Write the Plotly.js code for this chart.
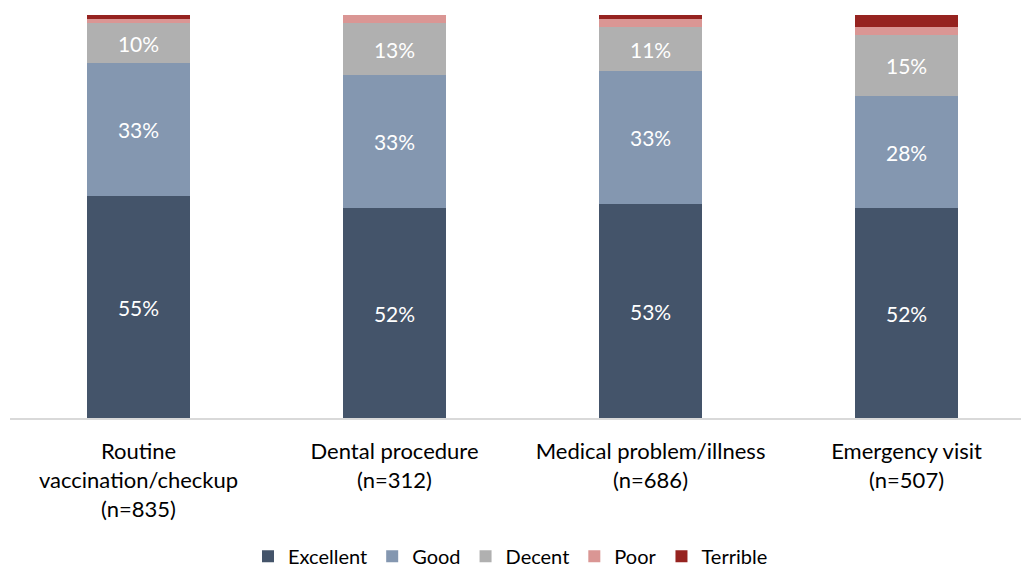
<!DOCTYPE html>
<html>
<head>
<meta charset="utf-8">
<script src="https://cdn.plot.ly/plotly-3.0.1.min.js"></script>
<style>html,body{margin:0;padding:0;background:#fff;}#chart{width:1021px;height:570px;}</style>
</head>
<body>
<div id="chart"></div>
<script>
const categories = [
  "Routine<br>vaccination/checkup<br>(n=835)",
  "Dental procedure<br>(n=312)",
  "Medical problem/illness<br>(n=686)",
  "Emergency visit<br>(n=507)"
];
const excellent = [55, 52, 53, 52];
const good = [33, 33, 33, 28];
const decent = [10, 13, 11, 15];
const poor = [1, 2, 2, 2];
const terrible = [1, 0, 1, 3];

const FONT = "Lato, 'Open Sans', sans-serif";
function mk(name, vals, color, showText) {
  return {
    type: 'bar', name: name, x: categories, y: vals,
    marker: {color: color, line: {width: 0}},
    width: 0.4,
    texttemplate: showText ? '%{y}%' : '',
    textposition: showText ? 'inside' : 'none',
    insidetextanchor: 'middle',
    textfont: {color: '#ffffff', size: 21, family: FONT},
    hoverinfo: 'skip'
  };
}
const data = [
  mk('Excellent', excellent, '#44546A', true),
  mk('Good', good, '#8497B0', true),
  mk('Decent', decent, '#B0B0B0', true),
  mk('Poor', poor, '#DA9694', false),
  mk('Terrible', terrible, '#962320', false)
];
const layout = {
  width: 1021, height: 570,
  margin: {l: 10, r: 0, t: 15, b: 152},
  barmode: 'stack',
  paper_bgcolor: '#ffffff', plot_bgcolor: '#ffffff',
  font: {family: FONT, color: '#000000', size: 20},
  xaxis: {
    type: 'category', range: [-0.502, 3.447],
    showline: true, linecolor: '#D9D9D9', linewidth: 2,
    ticks: '', showgrid: false, zeroline: false, automargin: false,
    ticklabelstandoff: 13,
    tickfont: {size: 22, family: FONT, color: '#000000'}
  },
  yaxis: {range: [0, 100], visible: false, showgrid: false, zeroline: false, fixedrange: true},
  showlegend: true,
  legend: {
    orientation: 'h', x: 0.5, xanchor: 'center', xref: 'container',
    y: 0.024, yanchor: 'middle', yref: 'container',
    traceorder: 'normal', font: {size: 20, family: FONT, color: '#000000'},
    itemwidth: 30
  },
  bargap: 0.6
};
Plotly.newPlot('chart', data, layout, {displayModeBar: false, staticPlot: true});
</script>
</body>
</html>
